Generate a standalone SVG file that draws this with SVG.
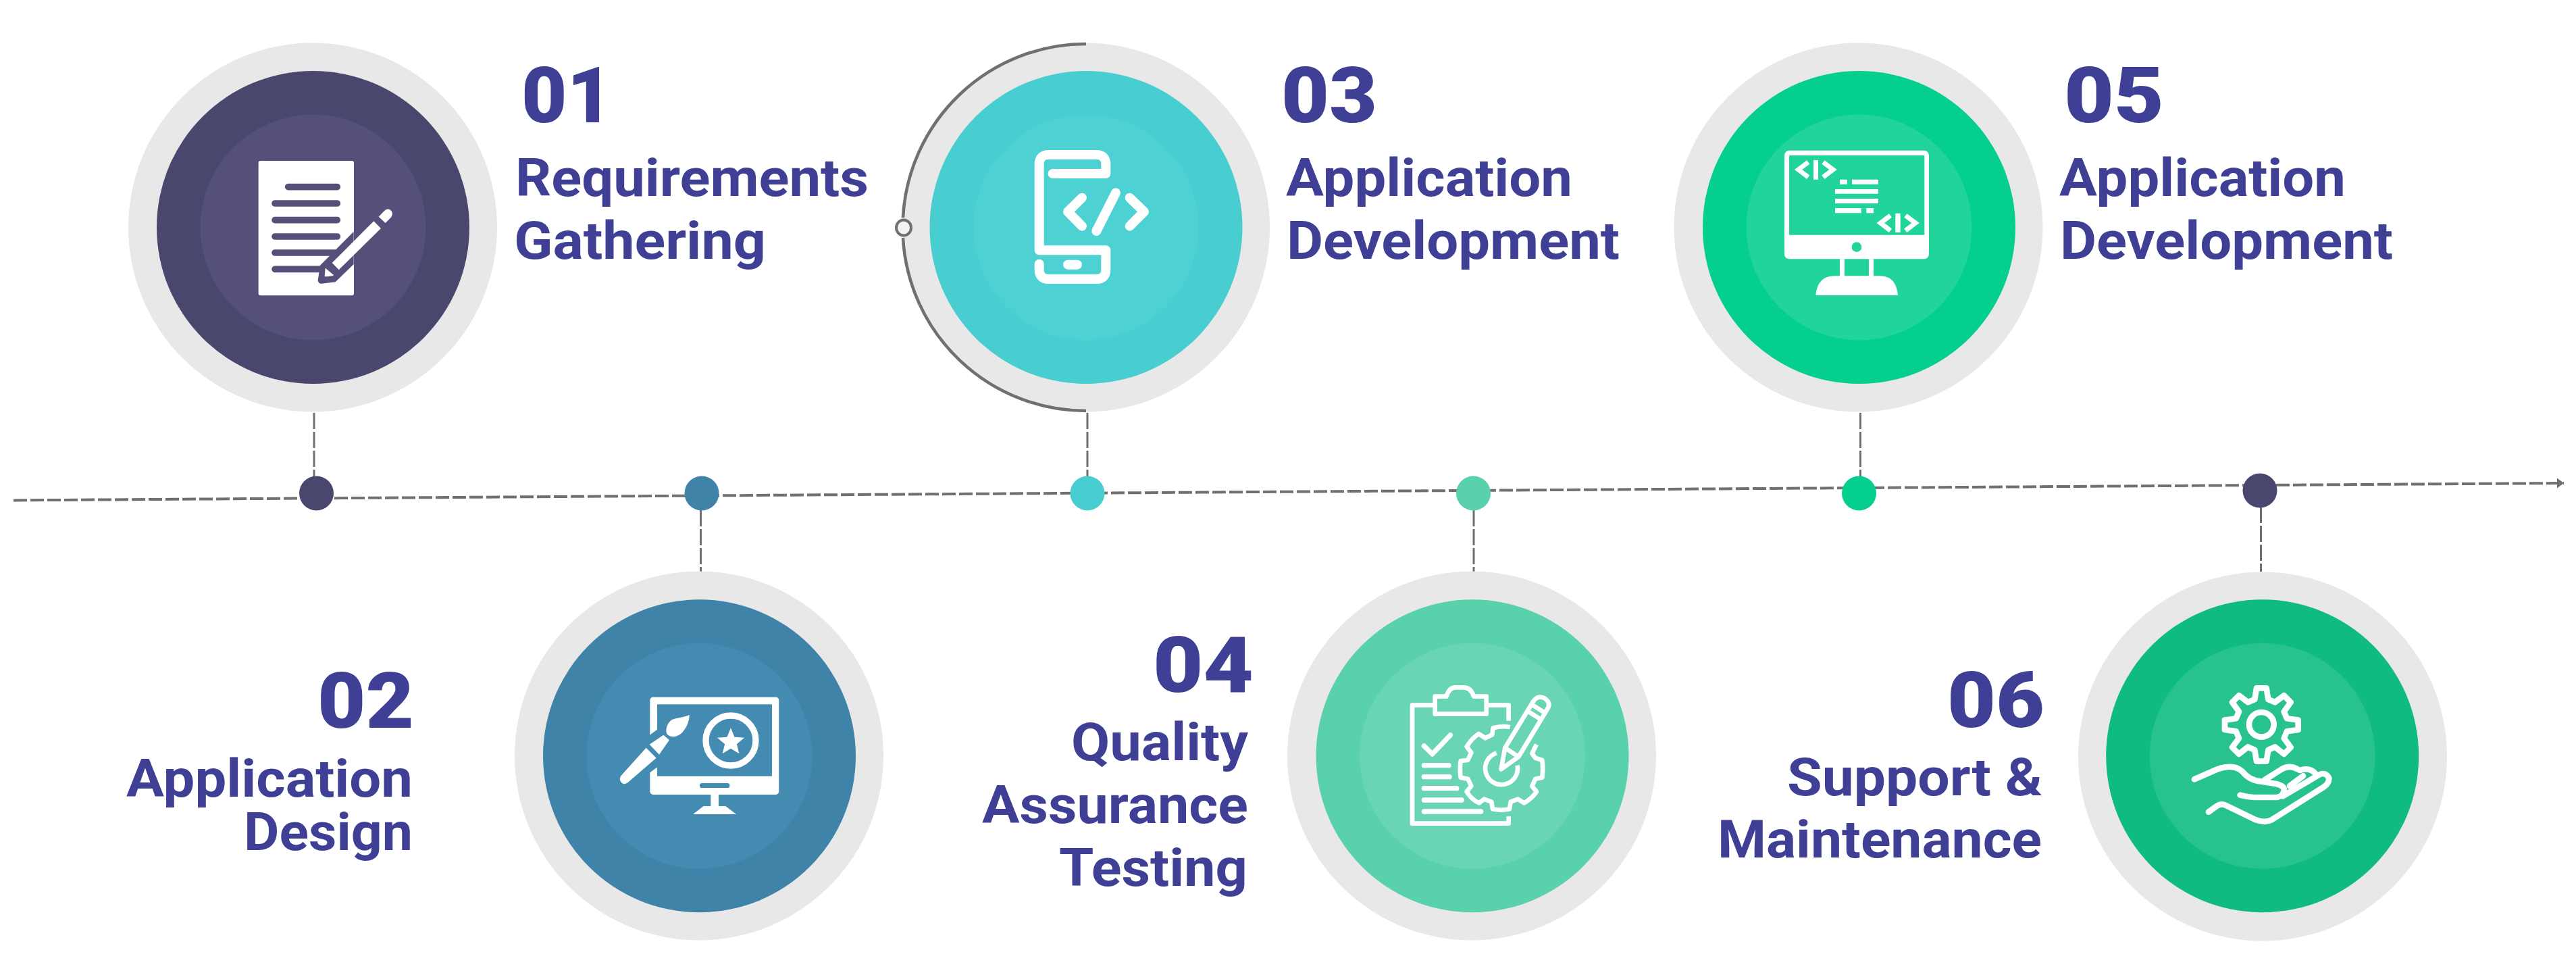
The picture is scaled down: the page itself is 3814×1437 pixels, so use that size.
<svg xmlns="http://www.w3.org/2000/svg" width="3814" height="1437" viewBox="0 0 3814 1437">
<style>
.ring{fill:#e8e8e8}
.num{font:900 115px Roboto,"Liberation Sans",sans-serif;fill:#3f3f95}
.lab{font:700 77px Roboto,"Liberation Sans",sans-serif;fill:#3f3f95}
.end{text-anchor:end}
.dash{fill:none;stroke:#707070;stroke-width:3;stroke-dasharray:24 4}
.axis{fill:none;stroke:#707070;stroke-width:4;stroke-dasharray:20 5}
.ic{fill:#fff}
.ln{fill:none;stroke:#fff;stroke-linecap:round;stroke-linejoin:round}
</style>
<defs>
<marker id="arrow" markerUnits="userSpaceOnUse" markerWidth="12" markerHeight="18" refX="11" refY="9" orient="auto"><path d="M1,1.500L11,9L1,16.500Z" fill="#707070"/></marker>
</defs>
<rect width="3814" height="1437" fill="#fff"/>
<g id="connectors">
<line class="axis" x1="20" y1="740.400" x2="3796" y2="715" marker-end="url(#arrow)"/>
<line class="dash" x1="465" y1="611" x2="465" y2="706"/>
<line class="dash" x1="1037.500" y1="755" x2="1037.500" y2="850"/>
<line class="dash" x1="1610" y1="611" x2="1610" y2="706"/>
<line class="dash" x1="2182" y1="755" x2="2182" y2="850"/>
<line class="dash" x1="2754.500" y1="611" x2="2754.500" y2="706"/>
<line class="dash" x1="3347.500" y1="750" x2="3347.500" y2="846"/>
</g>
<g id="dot-1"><circle cx="468.500" cy="730" r="25.500" fill="#4a476e"/></g>
<g id="dot-2"><circle cx="1039" cy="730" r="25.500" fill="#3f83a8"/></g>
<g id="dot-3"><circle cx="1610" cy="730" r="25.500" fill="#48cdd0"/></g>
<g id="dot-4"><circle cx="2181.500" cy="730" r="25.500" fill="#58d1ac"/></g>
<g id="dot-5"><circle cx="2752.500" cy="730" r="25.500" fill="#05cf8e"/></g>
<g id="dot-6"><circle cx="3346" cy="726" r="25.500" fill="#4a476e"/></g>

<g id="node-1">
<circle class="ring" cx="463" cy="336.500" r="273"/>
<circle cx="463.500" cy="336.500" r="231.500" fill="#4a476e"/>
<circle cx="463.500" cy="336.500" r="167" fill="#54507a"/>
<g transform="translate(350 210) scale(.3333)">
<rect class="ic" x="98" y="84" width="424" height="598" rx="10"/>
<g fill="none" stroke="#54507a" stroke-width="29" stroke-linecap="round">
<path d="M230,200H448M171,273H448M171,347H448M171,420H448M171,492H440M171,565H380"/>
</g>
<path d="M521,398L372,548L362,615Q365,632 380,629L440,622L521,543Z" fill="#54507a"/>
<path class="ic" d="M610,352L642,384L455,568L425,537ZM632,332L662,360L687,335Q700,315 685,303Q670,292 655,308ZM395,560L433,592Q420,598 392,598Z"/>
</g>
<text class="num" x="772" y="180.500" textLength="135" lengthAdjust="spacingAndGlyphs">01</text>
<text class="lab" x="763" y="290" textLength="523" lengthAdjust="spacingAndGlyphs">Requirements</text>
<text class="lab" x="761" y="383" textLength="373" lengthAdjust="spacingAndGlyphs">Gathering</text>
</g>

<g id="node-2">
<circle class="ring" cx="1035" cy="1118.500" r="273"/>
<circle cx="1035.500" cy="1118.800" r="231.500" fill="#3f83a8"/>
<circle cx="1035.500" cy="1118.800" r="167" fill="#448bb2"/>
<g transform="translate(900 1010) scale(.3333)">
<rect class="ic" x="187" y="65" width="573" height="433" rx="14"/>
<rect x="219" y="97" width="510" height="319" fill="#448bb2"/>
<path d="M180,238L225,205V372L180,405Z" fill="#448bb2"/>
<rect x="408" y="447" width="133" height="21" rx="10" fill="#448bb2"/>
<path class="ic" d="M457,498H492V549H523L570,585H378L425,549H457Z"/>
<path class="ic" d="M362,144C340,155 310,155 285,165C262,180 252,215 265,232C285,250 320,240 340,210C358,185 362,160 362,144ZM247,233L273,256L228,320L185,275ZM170,290L215,335L88,445Q70,458 57,440Q48,425 62,410Z"/>
<circle cx="546" cy="258" r="111" fill="none" stroke="#fff" stroke-width="28"/>
<path class="ic" d="M546,202L562.500,242.300L605.900,245.500L572.600,273.700L583,316L546,293L509,316L519.400,273.700L486.100,245.500L529.500,242.300Z"/>
</g>
<text class="num end" x="613" y="1077" textLength="143" lengthAdjust="spacingAndGlyphs">02</text>
<text class="lab end" x="611" y="1178.500" textLength="424" lengthAdjust="spacingAndGlyphs">Application</text>
<text class="lab end" x="611" y="1257.500" textLength="250" lengthAdjust="spacingAndGlyphs">Design</text>
</g>

<g id="node-3">
<circle class="ring" cx="1607" cy="336.500" r="273"/>
<circle cx="1608" cy="336.500" r="231.500" fill="#48cdd0"/>
<circle cx="1608" cy="336.500" r="167" fill="#4ed1d3"/>
<path d="M1608,65A271.500,271.500 0 0 0 1337,322M1337,352A271.500,271.500 0 0 0 1608,608" fill="none" stroke="#707070" stroke-width="4.500"/>
<ellipse cx="1338" cy="337" rx="11" ry="11.500" fill="#f2f2f2" stroke="#707070" stroke-width="4"/>
<g transform="translate(1480 200) scale(.3333)">
<g class="ln" stroke-width="42">
<path d="M236,171H472V130Q472,87 430,87H218Q176,87 176,130V511H472V597Q472,639 430,639H218Q176,639 176,597V572"/>
<path d="M303,575H345M366,278L303,340L366,404M516,256L430,426M578,278L642,340L578,404"/>
</g>
</g>
<text class="num" x="1897" y="180.500" textLength="142" lengthAdjust="spacingAndGlyphs">03</text>
<text class="lab" x="1904" y="290" textLength="424" lengthAdjust="spacingAndGlyphs">Application</text>
<text class="lab" x="1905" y="383" textLength="493" lengthAdjust="spacingAndGlyphs">Development</text>
</g>

<g id="node-4">
<circle class="ring" cx="2179" cy="1118.500" r="273"/>
<circle cx="2180" cy="1118.800" r="231.500" fill="#58d1ac"/>
<circle cx="2180" cy="1118.800" r="167" fill="#69d5b4"/>
<g transform="translate(2060 1000) scale(.3333)">
<g class="ln" stroke-width="20">
<path stroke-linecap="butt" d="M521,200V131H422M194,131H93V656H521V625"/>
<path d="M194,170H422V92H366Q355,52 320,52H285Q255,52 245,92H194Z"/>
<path stroke-linecap="butt" d="M527,228Q490,222 452,232L448,262L418,277L388,258Q355,280 335,315L355,342L340,375L308,378Q303,410 308,452L340,458L355,490L335,515Q355,550 390,565L412,548L445,560L450,592Q490,600 525,592L530,560L562,548L590,565Q625,545 645,515L625,490L640,458L670,452Q675,410 670,375L640,365L625,345L645,305"/>
<path stroke-linecap="butt" d="M467,343A72,72 0 1 0 560,398"/>
<path d="M488,415L505,320L630,115Q650,85 680,100Q710,120 695,145L565,360ZM505,320L565,360M618,165L665,195M635,135L682,165"/>
</g>
<g class="ln" stroke-width="22">
<path d="M145,312L182,348L262,264M145,398H255M145,449H258M145,500H290M145,552H313M145,603H398"/>
</g>
</g>
<text class="num end" x="1856" y="1024" textLength="149" lengthAdjust="spacingAndGlyphs">04</text>
<text class="lab end" x="1848" y="1125" textLength="262" lengthAdjust="spacingAndGlyphs">Quality</text>
<text class="lab end" x="1848" y="1217.500" textLength="394" lengthAdjust="spacingAndGlyphs">Assurance</text>
<text class="lab end" x="1847" y="1311" textLength="279" lengthAdjust="spacingAndGlyphs">Testing</text>
</g>

<g id="node-5">
<circle class="ring" cx="2751.500" cy="336.500" r="273"/>
<circle cx="2752.500" cy="336.500" r="231.500" fill="#05cf8e"/>
<circle cx="2752.500" cy="336.500" r="167" fill="#20d49b"/>
<g transform="translate(2620 200) scale(.3333)">
<rect class="ic" x="66" y="68" width="642" height="482" rx="22"/>
<rect x="87" y="90" width="601" height="353" rx="4" fill="#20d49b"/>
<circle cx="387" cy="497" r="22" fill="#20d49b"/>
<path class="ic" d="M312,550H333V625H441V550H462V625H490Q562,625 570,711H205Q212,625 290,625H312Z"/>
<path class="ic" d="M195,111H216V197H195ZM559,347H581V432H559ZM312,197H345V218H312ZM366,197H483V218H366ZM291,240H483V260H291ZM291,282H483V303H291ZM291,324H408V346H291ZM430,324H462V346H430Z"/>
<g fill="none" stroke="#fff" stroke-width="21">
<path d="M172,120L128,153L172,187M238,120L282,153L238,187M537,357L493,390L537,424M604,357L648,390L604,424"/>
</g>
</g>
<text class="num" x="3056" y="180.500" textLength="148" lengthAdjust="spacingAndGlyphs">05</text>
<text class="lab" x="3049" y="290" textLength="424" lengthAdjust="spacingAndGlyphs">Application</text>
<text class="lab" x="3050" y="383" textLength="493" lengthAdjust="spacingAndGlyphs">Development</text>
</g>

<g id="node-6">
<circle class="ring" cx="3350" cy="1119.500" r="273"/>
<circle cx="3349.700" cy="1118.800" r="231.500" fill="#0fbb83"/>
<circle cx="3349.700" cy="1118.800" r="167" fill="#27c290"/>
<g transform="translate(3220 1000) scale(.3333)">
<g class="ln" stroke-width="26">
<path d="M363,55H407L415,105L445,118L485,88L515,118L485,160L498,190L548,197V240L498,247L485,278L515,318L485,348L445,316L415,330L407,380H363L355,330L325,316L285,348L255,318L285,278L272,247L222,240V197L272,190L285,160L255,118L285,88L325,118L355,105Z"/>
<circle cx="385" cy="217" r="55"/>
<path d="M87,460L190,415Q260,390 300,425Q330,465 385,470L450,480Q490,490 485,510Q480,535 455,540H350Q320,538 290,530"/>
<path d="M400,462L475,415Q510,395 545,415M510,490L570,445M555,420Q600,405 625,435M480,535L640,440Q670,425 685,455Q685,480 660,495L430,640Q400,655 360,640L225,575Q205,565 185,580L150,605"/>
</g>
</g>
<text class="num end" x="3027" y="1076" textLength="144" lengthAdjust="spacingAndGlyphs">06</text>
<text class="lab end" x="3024" y="1177" textLength="378" lengthAdjust="spacingAndGlyphs">Support &amp;</text>
<text class="lab end" x="3023" y="1268.500" textLength="480" lengthAdjust="spacingAndGlyphs">Maintenance</text>
</g>
</svg>
